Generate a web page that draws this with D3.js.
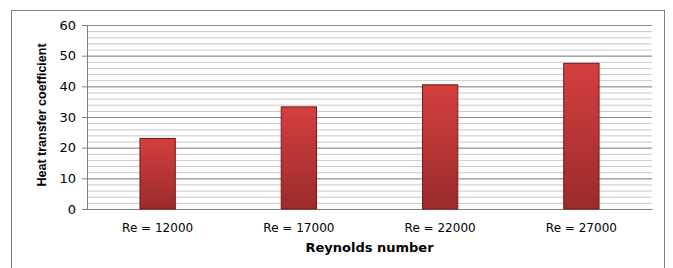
<!DOCTYPE html>
<html>
<head>
<meta charset="utf-8">
<script src="https://cdn.jsdelivr.net/npm/d3@7"></script>
<style>
  body { margin: 0; background: #fff; }
  text { font-family: "DejaVu Sans", Verdana, sans-serif; }
</style>
</head>
<body>
<div id="chart"></div>
<script>
var categories = ["Re = 12000", "Re = 17000", "Re = 22000", "Re = 27000"];
var values = [23, 33.3, 40.5, 47.5];
var yTicks = [0, 10, 20, 30, 40, 50, 60];

var svgWidth = 673, svgHeight = 268;
var margin = {top: 25, right: 21, bottom: 59, left: 87},
    width = svgWidth - margin.left - margin.right,
    height = svgHeight - margin.top - margin.bottom;

var svg = d3.select("#chart").append("svg")
    .attr("width", svgWidth)
    .attr("height", svgHeight)

// outer frame
svg.append("rect")
    .attr("x", 11.5).attr("y", 10.5)
    .attr("width", 653).attr("height", 270)
    .attr("fill", "none")
    .attr("stroke", "#808080")
    .attr("stroke-width", 1)

var defs = svg.append("defs")
var grad = defs.append("linearGradient")
    .attr("id", "barGrad")
    .attr("x1", 0).attr("y1", 0).attr("x2", 0).attr("y2", 1)
grad.append("stop").attr("offset", "0%").attr("stop-color", "#d43f3f")
grad.append("stop").attr("offset", "100%").attr("stop-color", "#9b2b2b")

var g = svg.append("g")
    .attr("transform", `translate(${margin.left}, ${margin.top})`)

var x = d3.scaleBand()
    .domain(categories)
    .range([0, width])
    .paddingInner(0.75)
    .paddingOuter(0.375)

var y = d3.scaleLinear()
    .domain([0, 60])
    .range([height, 0])

// minor grid
g.append("g")
    .attr("class", "minor grid")
    .call(d3.axisLeft(y).tickValues(d3.range(0, 61, 2)).tickSize(-width).tickFormat(""))
    .call(s => s.select(".domain").remove())
    .selectAll("line")
    .attr("stroke", "#c8c8c8")

// major grid
g.append("g")
    .attr("class", "major grid")
    .call(d3.axisLeft(y).tickValues(yTicks).tickSize(-width).tickFormat(""))
    .call(s => s.select(".domain").remove())
    .selectAll("line")
    .attr("stroke", "#8c8c8c")

// y axis
var yAxis = g.append("g")
    .call(d3.axisLeft(y).tickValues(yTicks).tickSize(5).tickSizeOuter(0).tickPadding(6))
yAxis.select(".domain").attr("stroke", "#808080")
yAxis.selectAll(".tick line").attr("stroke", "#808080")
yAxis.selectAll("text")
    .attr("fill", "#000")
    .style("font-size", "13px")

// x axis
var xAxis = g.append("g")
    .attr("transform", `translate(0, ${height})`)
    .call(d3.axisBottom(x).tickSize(0).tickPadding(14))
xAxis.select(".domain").attr("stroke", "#808080")
xAxis.selectAll("text")
    .attr("fill", "#000")
    .style("font-size", "12px")

// bars
g.append("g")
    .selectAll("rect")
    .data(values)
    .enter().append("rect")
    .attr("x", (d, i) => x(categories[i]))
    .attr("y", d => y(d))
    .attr("width", x.bandwidth())
    .attr("height", d => height - y(d))
    .attr("fill", "url(#barGrad)")
    .attr("stroke", "#7a1515")
    .attr("stroke-width", 1)

// axis titles
g.append("text")
    .attr("x", width / 2)
    .attr("y", height + 43)
    .attr("text-anchor", "middle")
    .style("font-size", "13px")
    .style("font-weight", "bold")
    .text("Reynolds number")

g.append("text")
    .attr("transform", `translate(${-41}, ${height / 2 - 2}) rotate(-90)`)
    .attr("text-anchor", "middle")
    .style("font-family", "'Liberation Sans', Arial, sans-serif")
    .style("font-size", "12.5px")
    .style("font-weight", "bold")
    .text("Heat transfer coefficient")
</script>
</body>
</html>
